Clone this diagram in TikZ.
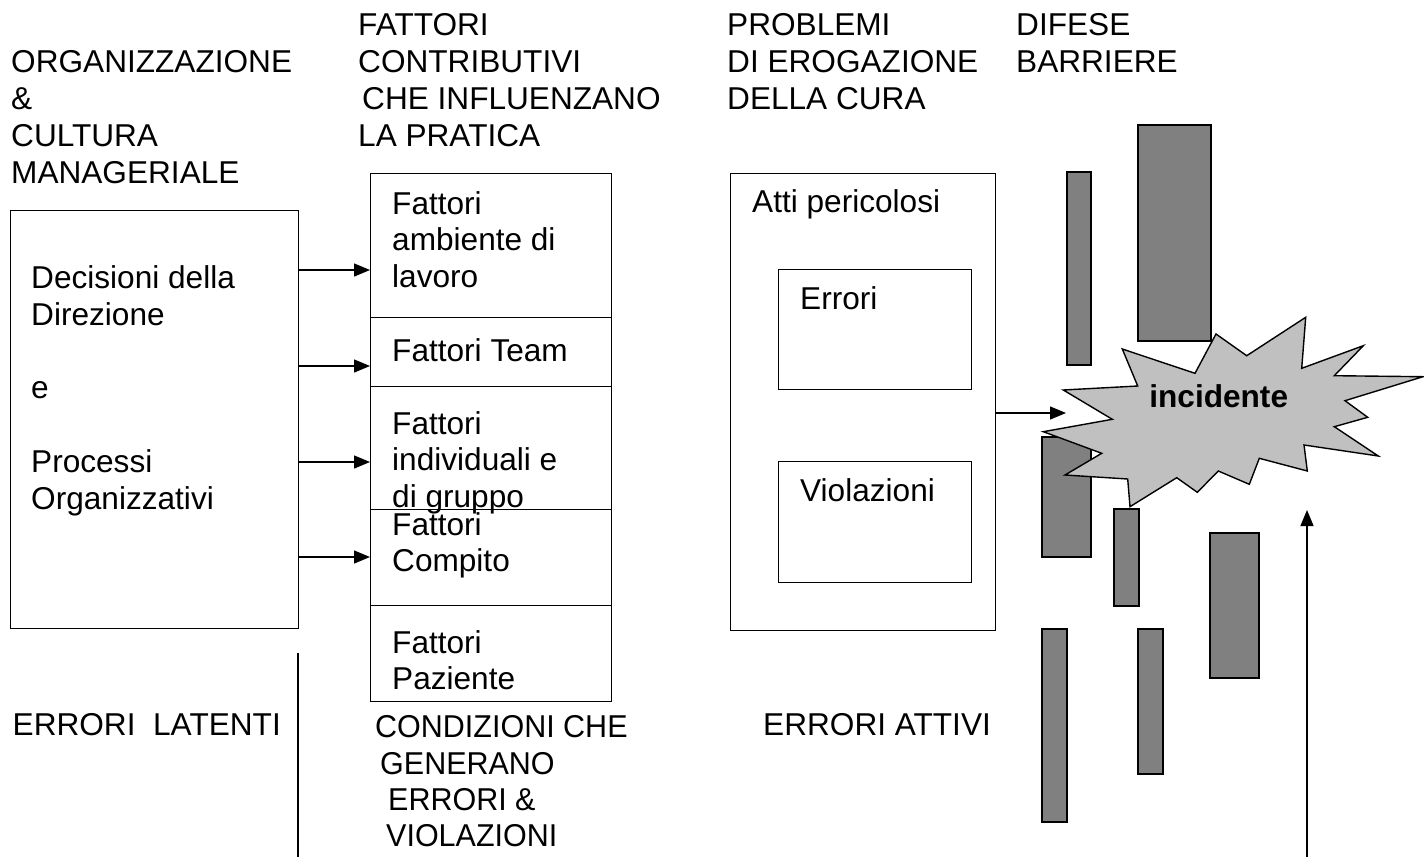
\documentclass[tikz,border=0pt]{standalone}
\usepackage{fontspec}
\setmainfont{Liberation Sans}
\usetikzlibrary{arrows.meta}
\definecolor{barfill}{HTML}{808080}
\definecolor{burstfill}{HTML}{C0C0C0}
\newcommand{\txtblock}[1]{\begin{tabular}[t]{@{}l@{}}#1\end{tabular}}
\begin{document}
\begin{tikzpicture}[x=1pt,y=-1pt,
  lbl/.style={anchor=base west, inner sep=0pt, font=\fontsize{31.6}{36.8}\selectfont},
  boxn/.style={draw, line width=1.4pt, anchor=north west, inner sep=0pt},
  bar/.style={draw, line width=1.6pt, fill=barfill},
  arr/.style={line width=1.4pt, -{Triangle[length=16pt,width=13pt]}}]
\useasboundingbox (0,0) rectangle (1424,867);

% headers
\node[lbl] (h1) at (11,72.7) {\txtblock{ORGANIZZAZIONE\\ \&\\ CULTURA\\ MANAGERIALE}};
\node[lbl] (h2) at (358,35.7) {\txtblock{FATTORI\\ CONTRIBUTIVI\\ \hspace{4pt}CHE INFLUENZANO\\ LA PRATICA}};
\node[lbl] (h3) at (727,35.7) {\txtblock{PROBLEMI\\ DI EROGAZIONE\\ DELLA CURA}};
\node[lbl] (h4) at (1016,35.7) {\txtblock{DIFESE\\ BARRIERE}};

% left box
\node[boxn, minimum width=288pt, minimum height=418pt] (org) at (10,210) {};
\node[lbl] (orgt) at (31,288.3) {\txtblock{Decisioni della\\ Direzione\\ \\ e\\ \\ Processi\\ Organizzativi}};

% middle column
\node[boxn, minimum width=241pt, minimum height=144pt] (c1) at (370,173) {};
\node[boxn, minimum width=241pt, minimum height=69pt] (c2) at (370,317) {};
\node[boxn, minimum width=241pt, minimum height=123pt] (c3) at (370,386) {};
\node[boxn, minimum width=241pt, minimum height=96pt] (c4) at (370,509) {};
\node[boxn, minimum width=241pt, minimum height=96pt] (c5) at (370,605) {};
\node[lbl] (t1) at (392,214) {\txtblock{Fattori\\ ambiente di\\ lavoro}};
\node[lbl] (t2) at (392,361) {Fattori Team};
\node[lbl] (t3) at (392,434) {\txtblock{Fattori\\ individuali e\\ di gruppo}};
\node[lbl] (t4) at (392,535) {\txtblock{Fattori\\ Compito}};
\node[lbl] (t5) at (392,653) {\txtblock{Fattori\\ Paziente}};

% arrows left -> middle
\coordinate (a1) at (0,270);
\coordinate (a2) at (0,366);
\coordinate (a3) at (0,462);
\coordinate (a4) at (0,557);
\draw[arr] (org.east |- a1) -- (c1.west |- a1);
\draw[arr] (org.east |- a2) -- (c2.west |- a2);
\draw[arr] (org.east |- a3) -- (c3.west |- a3);
\draw[arr] (org.east |- a4) -- (c4.west |- a4);

% atti pericolosi
\node[boxn, minimum width=265pt, minimum height=457pt] (atti) at (730,173) {};
\node[lbl] (attit) at (752,212.3) {Atti pericolosi};
\node[boxn, minimum width=193pt, minimum height=120pt] (err) at (778,269) {};
\node[lbl] (errt) at (800,309) {Errori};
\node[boxn, minimum width=193pt, minimum height=121pt] (vio) at (778,461) {};
\node[lbl] (viot) at (800,501.7) {Violazioni};

% bars
\draw[bar] (1067,172) rectangle (1091,365);
\draw[bar] (1138,125) rectangle (1211,341);
\draw[bar] (1042,437) rectangle (1091,557);
\draw[bar] (1114,509) rectangle (1139,606);
\draw[bar] (1210,533) rectangle (1259,678);
\draw[bar] (1042,629) rectangle (1067,822);
\draw[bar] (1138,629) rectangle (1163,774);

% starburst
\draw[line width=1.4pt, fill=burstfill, line join=miter]
  (1063.3,390) -- (1137.7,386) -- (1122.3,349) -- (1195,373.3) -- (1216,334)
  -- (1246.7,355.7) -- (1305.7,317.3) -- (1301.7,368.3) -- (1363.3,345.7)
  -- (1334.3,375.7) -- (1423,376.7) -- (1345,400.7) -- (1367.7,417.3)
  -- (1334.3,426.7) -- (1378.3,456) -- (1304,445) -- (1307.3,471)
  -- (1259.3,458.3) -- (1249.3,484.3) -- (1218.3,471) -- (1197.3,492.3)
  -- (1176.7,477.7) -- (1130,506.7) -- (1127.7,479) -- (1065,475)
  -- (1101.7,453.3) -- (1043.3,431.7) -- (1112.3,419.3) -- cycle;
\node[anchor=base, inner sep=0pt, font=\fontsize{31.6}{36.8}\selectfont\bfseries] (inc) at (1218.7,407.3) {incidente};

% arrow atti -> incidente
\coordinate (tipA) at (1066,413);
\draw[arr] (atti.east |- tipA) -- (tipA);

% vertical line and up arrow
\coordinate (vlT) at (298,653);
\coordinate (vlB) at (298,857);
\draw[line width=1.4pt] (vlT) -- (vlB);
\coordinate (upB) at (1307,857);
\coordinate (upT) at (1307,510);
\draw[arr] (upB) -- (upT);

% bottom labels
\node[lbl] (b1) at (12.5,735) {ERRORI\hspace{17.6pt}LATENTI};
\node[lbl, xscale=0.965] (b2) at (375,737.7) {CONDIZIONI CHE};
\node[lbl, xscale=0.965] (b2b) at (380,774) {GENERANO};
\node[lbl, xscale=0.965] (b2c) at (388,810.5) {ERRORI \&};
\node[lbl, xscale=0.965] (b2d) at (386,846.7) {VIOLAZIONI};
\node[lbl] (b3) at (763,735) {ERRORI ATTIVI};
\end{tikzpicture}
\end{document}
